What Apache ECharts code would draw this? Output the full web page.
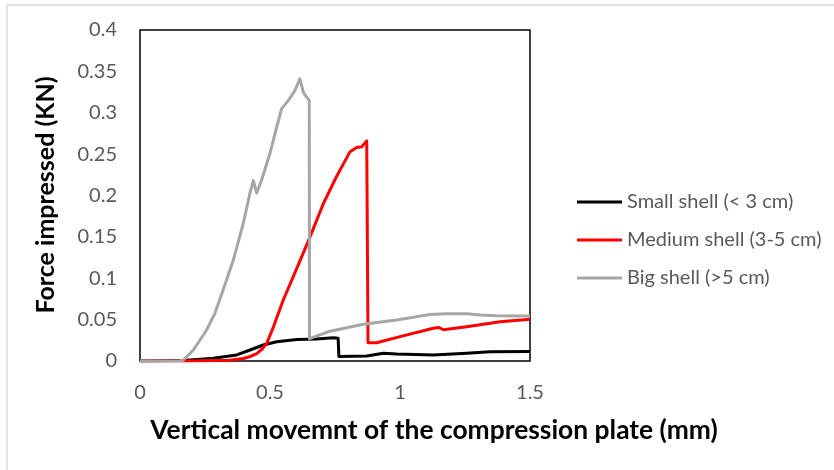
<!DOCTYPE html>
<html>
<head>
<meta charset="utf-8">
<script src="https://cdn.jsdelivr.net/npm/echarts@6/dist/echarts.min.js"></script>
<style>
  html, body { margin: 0; padding: 0; background: #fff; }
  #chart { width: 834px; height: 470px; }
</style>
</head>
<body>
<div id="chart"></div>
<script>
// Compression test: force vs. plate displacement for three shell sizes
var seriesNames = ['Small shell (< 3 cm)', 'Medium shell (3-5 cm)', 'Big shell (>5 cm)'];

var smallX = [0, 0.18, 0.282, 0.372, 0.423, 0.474, 0.526, 0.603, 0.679, 0.744, 0.762, 0.765, 0.872, 0.936, 0.987, 1.128, 1.256, 1.346, 1.5];
var smallY = [0, 0.0008, 0.0032, 0.0073, 0.0133, 0.0193, 0.0233, 0.026, 0.0266, 0.028, 0.0275, 0.0055, 0.006, 0.0093, 0.0085, 0.0073, 0.0093, 0.0112, 0.0115];

var mediumX = [0, 0.173, 0.3, 0.346, 0.397, 0.425, 0.449, 0.47, 0.487, 0.513, 0.551, 0.603, 0.654, 0.705, 0.756, 0.808, 0.833, 0.853, 0.872, 0.876, 0.877, 0.91, 1.0, 1.128, 1.15, 1.167, 1.256, 1.385, 1.5];
var mediumY = [0, 0, 0.0005, 0.001, 0.003, 0.0055, 0.009, 0.0145, 0.021, 0.041, 0.0737, 0.112, 0.15, 0.19, 0.223, 0.253, 0.258, 0.259, 0.266, 0.264, 0.022, 0.022, 0.0294, 0.0395, 0.0405, 0.0378, 0.0415, 0.0475, 0.0504];

var bigX = [0, 0.154, 0.167, 0.186, 0.205, 0.231, 0.256, 0.288, 0.32, 0.359, 0.397, 0.423, 0.436, 0.449, 0.468, 0.5, 0.526, 0.545, 0.571, 0.596, 0.615, 0.628, 0.636, 0.651, 0.652, 0.731, 0.859, 0.987, 1.115, 1.18, 1.258, 1.308, 1.372, 1.5];
var bigY = [0, 0, 0.0012, 0.0073, 0.0133, 0.0254, 0.0375, 0.0576, 0.086, 0.122, 0.166, 0.203, 0.218, 0.203, 0.219, 0.251, 0.283, 0.305, 0.315, 0.327, 0.341, 0.325, 0.321, 0.315, 0.027, 0.036, 0.0445, 0.0495, 0.0562, 0.0572, 0.057, 0.0556, 0.0546, 0.0544];

var xTicks = { min: 0, max: 1.5, step: 0.5 };
var yTicks = { min: 0, max: 0.4, step: 0.05 };

var colors = ['#000000', '#ff0000', '#a6a6a6'];
var FONT = 'Lato';

function pairs(xs, ys) {
  return xs.map(function (x, i) { return [x, ys[i]]; });
}

var chart = echarts.init(document.getElementById('chart'), null, { renderer: 'canvas' });

var lines = [pairs(smallX, smallY), pairs(mediumX, mediumY), pairs(bigX, bigY)];

chart.setOption({
  backgroundColor: '#ffffff',
  animation: false,
  color: colors,
  grid: {
    left: 140, top: 30, width: 390, height: 331,
    show: true, borderColor: '#000', borderWidth: 1.5, backgroundColor: 'transparent'
  },
  legend: {
    orient: 'vertical',
    left: 577, top: 192, padding: 0,
    itemWidth: 45, itemHeight: 3, itemGap: 18,
    icon: 'rect',
    textStyle: { fontFamily: FONT, fontSize: 20, color: '#595959', lineHeight: 20, padding: [0, 0, 0, 0] },
    data: seriesNames
  },
  xAxis: {
    type: 'value', min: xTicks.min, max: xTicks.max, interval: xTicks.step,
    axisLine: { show: false }, axisTick: { show: false }, splitLine: { show: false },
    axisLabel: { fontFamily: FONT, fontSize: 20, color: '#595959', margin: 22 }
  },
  yAxis: {
    type: 'value', min: yTicks.min, max: yTicks.max, interval: yTicks.step,
    axisLine: { show: false }, axisTick: { show: false }, splitLine: { show: false },
    axisLabel: { fontFamily: FONT, fontSize: 20, color: '#595959', margin: 23 }
  },
  series: lines.map(function (d, i) {
    return {
      name: seriesNames[i], type: 'line', data: d,
      showSymbol: false, smooth: false,
      lineStyle: { width: 3, color: colors[i], join: 'round' }
    };
  }),
  graphic: [
    {
      type: 'rect', silent: true, z: -1,
      shape: { x: 7, y: 5, width: 900, height: 600 },
      style: { fill: 'none', stroke: '#d9d9d9', lineWidth: 1.5 }
    },
    {
      type: 'text', silent: true,
      x: 434, y: 430,
      style: {
        text: 'Vertical movemnt of the compression plate (mm)',
        fontFamily: FONT, fontWeight: 'bold', fontSize: 26.4, fill: '#000',
        align: 'center', verticalAlign: 'middle'
      }
    },
    {
      type: 'text', silent: true,
      x: 46, y: 195, rotation: Math.PI / 2,
      style: {
        text: 'Force impressed (KN)',
        fontFamily: FONT, fontWeight: 'bold', fontSize: 25, fill: '#000',
        align: 'center', verticalAlign: 'middle'
      }
    }
  ]
});
</script>
</body>
</html>
